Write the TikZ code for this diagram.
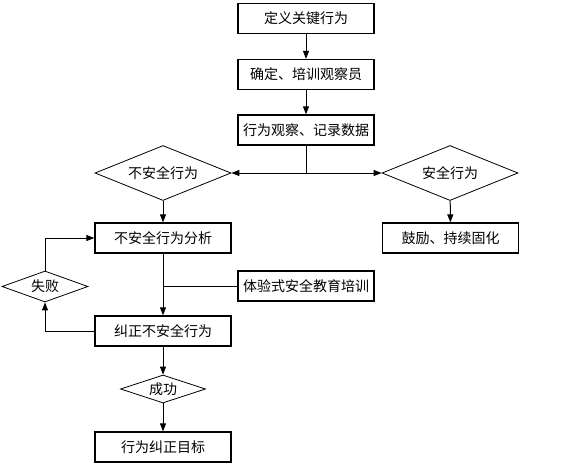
\documentclass[tikz,border=0pt]{standalone}
\usepackage{fontspec}
\newfontfamily\cjk{Noto Sans CJK SC}
\usetikzlibrary{shapes.geometric, positioning, calc, arrows.meta}

\tikzset{
    stepbox/.style={draw, line width=1.3pt, minimum width=136pt, minimum height=30pt, inner sep=1pt},
    decision/.style={draw, diamond, line width=0.8pt, aspect=2.5, inner sep=1pt},
    flow/.style={line width=1pt}
}

\begin{document}
\begin{tikzpicture}[x=1pt, y=-1pt, >={Triangle[length=8pt,width=6pt]},
    font=\cjk\fontsize{14}{16}\selectfont]

    \useasboundingbox (0,0) rectangle (570,472);

    % --- Main column ---
    \node[stepbox] (define)   at (306,18.5)  {定义关键行为};
    \node[stepbox] (observer) at (306,74.5)  {确定、培训观察员};
    \node[stepbox] (record)   at (306,130)   {行为观察、记录数据};

    % --- Split into unsafe / safe ---
    \node[decision, minimum width=136pt, minimum height=55pt] (unsafe) at (163,173) {不安全行为};
    \node[decision, minimum width=136pt, minimum height=55pt] (safe)   at (450,173) {安全行为};
    \coordinate (split) at (record.south |- unsafe.east);

    \node[stepbox] (analysis) at (163,238)   {不安全行为分析};
    \node[stepbox] (praise)   at (450.5,238) {鼓励、持续固化};

    % --- Correction loop ---
    \node[stepbox] (training) at (306,286)   {体验式安全教育培训};
    \node[stepbox] (correct)  at (163,331)   {纠正不安全行为};
    \node[decision, minimum width=86pt, minimum height=31pt, aspect=2.8] (fail) at (45,286.5) {失败};
    \node[decision, minimum width=85pt, minimum height=28pt, aspect=3] (success) at (163,389) {成功};
    \node[stepbox] (goal)     at (163,447)   {行为纠正目标};
    \coordinate (merge) at (analysis.south |- training.west);

    % --- Connectors ---
    \draw[flow, ->] (define) -- (observer);
    \draw[flow, ->] (observer) -- (record);
    \draw[flow] (record) -- (split);
    \draw[flow, ->] (split) -- (unsafe.east);
    \draw[flow, ->] (split) -- (safe.west);
    \draw[flow, ->] (unsafe) -- (analysis);
    \draw[flow, ->] (safe) -- (praise);
    \draw[flow, ->] (analysis) -- (correct);
    \draw[flow] (training) -- (merge);
    \draw[flow, ->] (correct.west) -| (fail.south);
    \draw[flow, ->] (fail.north) |- (analysis.west);
    \draw[flow, ->] (correct) -- (success);
    \draw[flow, ->] (success) -- (goal);

\end{tikzpicture}
\end{document}
